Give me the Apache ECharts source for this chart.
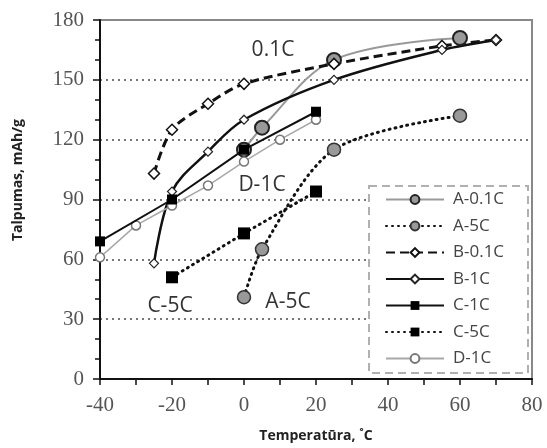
<!DOCTYPE html>
<html>
<head>
<meta charset="utf-8">
<script src="https://cdn.jsdelivr.net/npm/echarts@6/dist/echarts.min.js"></script>
<style>
  html, body { margin: 0; background: #fff; }
  #chart { width: 547px; height: 448px; }
</style>
</head>
<body>
<div id="chart"></div>
<script>
// 数据：[温度, 容量]
const seriesNames = ['A-0.1C', 'A-5C', 'B-0.1C', 'B-1C', 'C-1C', 'C-5C', 'D-1C']
const a01C = [[0, 115], [5, 126], [25, 160], [60, 171]]
const a5C = [[0, 41], [5, 65], [25, 115], [60, 132]]
const b01C = [[-25, 103], [-20, 125], [-10, 138], [0, 148], [25, 158], [55, 167], [70, 170]]
const b1C = [[-25, 58], [-20, 94], [-10, 114], [0, 130], [25, 150], [55, 165], [70, 170]]
const c1C = [[-40, 69], [-20, 90], [0, 115], [20, 134]]
const c5C = [[-20, 51], [0, 73], [20, 94]]
const d1C = [[-40, 61], [-30, 77], [-20, 87], [-10, 97], [0, 109], [10, 120], [20, 130]]
const xTicks = { min: -40, max: 80, step: 20 }
const yTicks = { min: 0, max: 180, step: 30 }

const sansFont = '"Open Sans", "Noto Sans", sans-serif'
const serifFont = '"Liberation Serif", "DejaVu Serif", serif'

// 系列样式
const gray = '#999'
const dotted = { type: [1, 5], cap: 'round', width: 3, color: '#111' }
const styles = {
  'A-0.1C': { data: a01C, smooth: 0.35, symbol: 'circle', symbolSize: 14,
    itemStyle: { color: '#999', borderColor: '#222', borderWidth: 2 },
    lineStyle: { color: gray, width: 2 } },
  'A-5C': { data: a5C, smooth: 0.3, symbol: 'circle', symbolSize: 13,
    itemStyle: { color: '#999', borderColor: '#333', borderWidth: 1.5 },
    lineStyle: dotted },
  'B-0.1C': { data: b01C, smooth: 0.3, symbol: 'diamond', symbolSize: 11,
    itemStyle: { color: '#fff', borderColor: '#111', borderWidth: 1.5 },
    lineStyle: { type: [9, 5], width: 3, color: '#111' } },
  'B-1C': { data: b1C, smooth: 0.35, symbol: 'diamond', symbolSize: 9,
    itemStyle: { color: '#fff', borderColor: '#222', borderWidth: 1.2 },
    lineStyle: { width: 2.5, color: '#111' } },
  'C-1C': { data: c1C, smooth: false, symbol: 'rect', symbolSize: 10,
    itemStyle: { color: '#000' },
    lineStyle: { width: 2, color: '#111' } },
  'C-5C': { data: c5C, smooth: false, symbol: 'rect', symbolSize: 12,
    itemStyle: { color: '#000' },
    lineStyle: dotted },
  'D-1C': { data: d1C, smooth: false, symbol: 'circle', symbolSize: 9,
    itemStyle: { color: '#fff', borderColor: '#777', borderWidth: 1.5 },
    lineStyle: { width: 1.5, color: '#a8a8a8' } }
}

const series = seriesNames.map(name => Object.assign({
  name,
  type: 'line',
  showAllSymbol: true,
  animation: false,
  z: name === 'C-1C' || name === 'C-5C' ? 4 : 3
}, styles[name]))

// 图中标注
const notes = [
  { text: '0.1C', x: 273, y: 50 },
  { text: 'D-1C', x: 262, y: 185 },
  { text: 'C-5C', x: 170, y: 306 },
  { text: 'A-5C', x: 288, y: 302 }
]

const myChart = echarts.init(document.getElementById('chart'))
myChart.setOption({
  backgroundColor: '#fff',
  animation: false,
  grid: {
    left: 100, right: 15, top: 20, bottom: 67,
    show: true, borderColor: '#888', borderWidth: 2
  },
  xAxis: {
    type: 'value',
    min: xTicks.min, max: xTicks.max, interval: xTicks.step,
    name: 'Temperatūra, ˚C',
    nameLocation: 'middle',
    nameGap: 50,
    nameTextStyle: { fontFamily: sansFont, fontWeight: 'bold', fontSize: 14, color: '#222' },
    axisLine: { lineStyle: { color: '#111', width: 2 } },
    axisTick: { length: 6, lineStyle: { color: '#111', width: 1.5 } },
    minorTick: { show: true, splitNumber: 2, length: 6, lineStyle: { color: '#111', width: 1.5 } },
    axisLabel: { fontFamily: serifFont, fontSize: 21, color: '#555', margin: 16 },
    splitLine: { show: false }
  },
  yAxis: {
    type: 'value',
    min: yTicks.min, max: yTicks.max, interval: yTicks.step,
    axisLine: { onZero: false, lineStyle: { color: '#111', width: 2 } },
    axisTick: { length: 7, lineStyle: { color: '#111', width: 1.5 } },
    minorTick: { show: true, splitNumber: 3, length: 5, lineStyle: { color: '#111', width: 1.5 } },
    axisLabel: { fontFamily: serifFont, fontSize: 21, color: '#555', margin: 16 },
    splitLine: {
      show: true, showMinLine: false, showMaxLine: false,
      lineStyle: { color: '#777', width: 2, type: [2, 4] }
    }
  },
  legend: {
    orient: 'vertical',
    left: 385, top: 191,
    padding: 0,
    itemWidth: 58, itemHeight: 11, itemGap: 9.5,
    textStyle: { fontFamily: sansFont, fontSize: 17, color: '#444', padding: [0, 0, 0, 4] },
    data: seriesNames
  },
  graphic: [
    {
      type: 'rect', left: 368, top: 185, z: 1,
      shape: { width: 159, height: 187 },
      style: { fill: '#fff', stroke: '#b0b0b0', lineWidth: 2, lineDash: [8, 5] }
    },
    {
      // 纵轴标题
      type: 'text', x: 18, y: 180, rotation: Math.PI / 2, z: 10,
      style: {
        text: 'Talpumas, mAh/g', fill: '#222', font: 'bold 14px ' + sansFont,
        textAlign: 'center', textVerticalAlign: 'middle'
      }
    }
  ].concat(notes.map(n => ({
    type: 'text', x: n.x, y: n.y, z: 10,
    style: {
      text: n.text, fill: '#333', font: '21px ' + sansFont,
      textAlign: 'center', textVerticalAlign: 'middle'
    }
  }))),
  series
})
</script>
</body>
</html>
